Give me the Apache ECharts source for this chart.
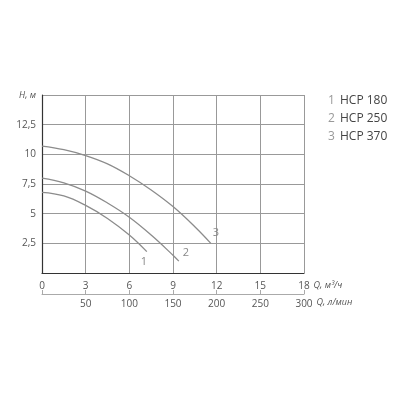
<!DOCTYPE html>
<html>
<head>
<meta charset="utf-8">
<script src="https://cdn.jsdelivr.net/npm/echarts@6/dist/echarts.min.js"></script>
<style>
html,body{margin:0;padding:0;background:#fff;}
#main{width:400px;height:400px;}
</style>
</head>
<body>
<div id="main"></div>
<script>
// данные кривых Q (м3/ч) - H (м)
var names = ['HCP 180', 'HCP 250', 'HCP 370'];
var curve1 = [[0, 6.8], [1.5, 6.5], [3, 5.7], [4.5, 4.6], [6, 3.2], [7.2, 1.8]];
var curve2 = [[0, 8.0], [1.5, 7.6], [3, 6.9], [4.5, 5.9], [6, 4.7], [7.5, 3.2], [9, 1.5], [9.4, 1.0]];
var curve3 = [[0, 10.7], [1.5, 10.4], [3, 9.9], [4.5, 9.2], [6, 8.2], [7.5, 7.0], [9, 5.6], [10.5, 3.9], [11.6, 2.5]];
var curves = [curve1, curve2, curve3];
var labelOffsets = [[-14, 10], [-4, -8], [-6, -10]];

var font = 'Open Sans';
var grey = '#8c8c8c';

var myChart = echarts.init(document.getElementById('main'));

var series = [];
for (var i = 0; i < curves.length; i++) {
	series.push({
		name: names[i],
		type: 'line',
		xAxisIndex: 0,
		smooth: 0.4,
		showSymbol: false,
		symbol: 'none',
		data: curves[i],
		lineStyle: {color: grey, width: 1.3},
		itemStyle: {color: grey},
		endLabel: {
			show: true,
			formatter: String(i + 1),
			offset: labelOffsets[i],
			color: '#888',
			fontFamily: font,
			fontSize: 11
		}
	});
}

var option = {
	animation: false,
	grid: {left: 42, right: 96, top: 95, bottom: 127},
	legend: {
		orient: 'vertical',
		left: 318,
		top: 89,
		icon: 'none',
		itemWidth: 0,
		itemGap: 5,
		data: names,
		formatter: function(name) {
			return '{n|' + (names.indexOf(name) + 1) + '}{t|' + name + '}';
		},
		textStyle: {
			rich: {
				n: {color: '#999', fontFamily: font, fontSize: 12, width: 12},
				t: {color: '#444', fontFamily: font, fontSize: 12}
			}
		}
	},
	xAxis: [{
		type: 'value',
		min: 0, max: 18, interval: 3,
		position: 'bottom',
		name: 'Q, м³/ч',
		nameLocation: 'end',
		nameGap: 8,
		nameTextStyle: {color: '#555', fontFamily: font, fontSize: 9, fontStyle: 'italic', verticalAlign: 'top', padding: [8, 0, 0, 0]},
		axisLine: {lineStyle: {color: '#333', width: 1.2}},
		axisTick: {show: false},
		axisLabel: {color: '#555', fontFamily: font, fontSize: 10, margin: 8},
		splitLine: {lineStyle: {color: '#999', width: 1}}
	}, {
		type: 'value',
		min: 0, max: 300, interval: 50,
		position: 'bottom',
		offset: 21,
		name: 'Q, л/мин',
		nameLocation: 'end',
		nameGap: 8,
		nameTextStyle: {color: '#555', fontFamily: font, fontSize: 9, fontStyle: 'italic', verticalAlign: 'top', padding: [4, 0, 0, 0]},
		axisLine: {lineStyle: {color: '#aaa', width: 1}},
		axisTick: {show: true, inside: true, length: 4, lineStyle: {color: '#aaa'}},
		axisLabel: {
			color: '#555', fontFamily: font, fontSize: 10, margin: 5,
			formatter: function(v) { return v === 0 ? '' : String(v); }
		},
		splitLine: {show: false}
	}],
	yAxis: {
		type: 'value',
		min: 0, max: 15, interval: 2.5,
		axisLine: {show: true, lineStyle: {color: '#333', width: 1.2}},
		axisTick: {show: false},
		axisLabel: {
			color: '#555', fontFamily: font, fontSize: 10, margin: 6,
			formatter: function(v) {
				if (v === 0) return '';
				if (v === 15) return '{i|H, м}';
				return String(v).replace('.', ',');
			},
			rich: {i: {color: '#555', fontFamily: font, fontSize: 9, fontStyle: 'italic'}}
		},
		splitLine: {lineStyle: {color: '#999', width: 1}}
	},
	series: series
};

myChart.setOption(option);
</script>
</body>
</html>
